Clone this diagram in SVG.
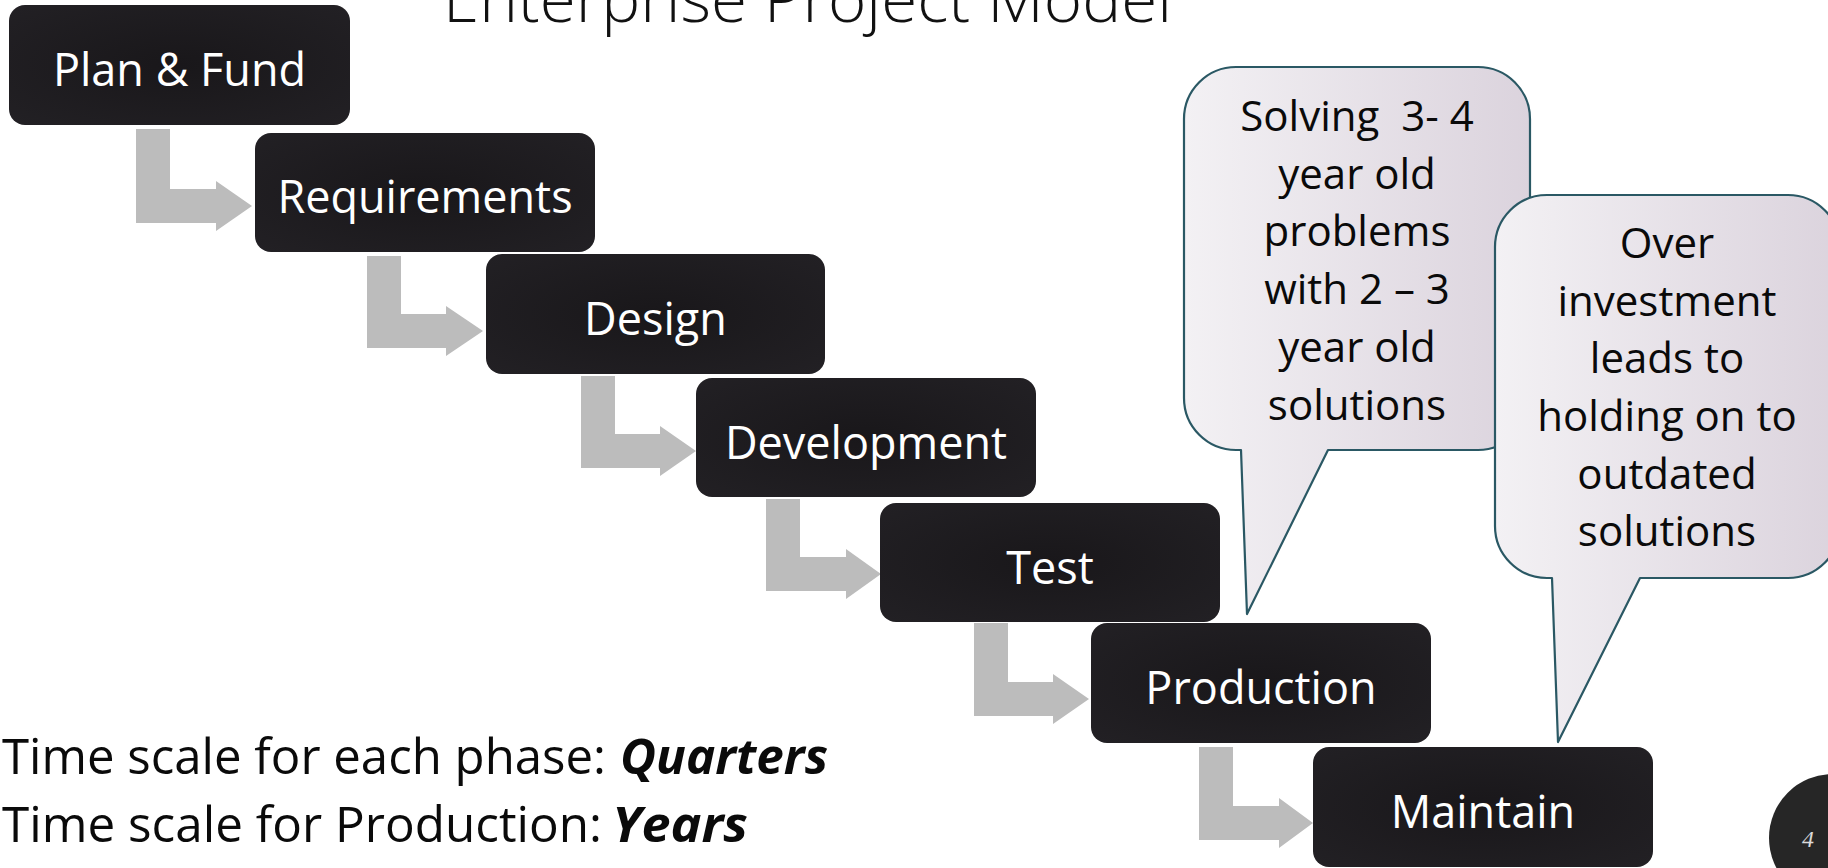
<svg xmlns="http://www.w3.org/2000/svg" width="1828" height="868" viewBox="0 0 1828 868">
<defs>
<radialGradient id="boxFill" cx="0.5" cy="0.5" r="0.75">
<stop offset="0" stop-color="#19171a"/>
<stop offset="1" stop-color="#232125"/>
</radialGradient>
<linearGradient id="bubbleFill" x1="0" y1="0" x2="1" y2="0">
<stop offset="0" stop-color="#f3f1f4"/>
<stop offset="1" stop-color="#dbd3dd"/>
</linearGradient>
</defs>
<style>
.box{fill:url(#boxFill);}
.boxText{font-family:"Open Sans","DejaVu Sans",sans-serif;font-size:45px;fill:#ffffff;text-anchor:middle;}
.arrow{fill:#bcbcbc;}
.bubble{fill:url(#bubbleFill);stroke:#2a5864;stroke-width:2.2;stroke-linejoin:round;}
.bubbleText{font-family:"Open Sans","DejaVu Sans",sans-serif;font-size:42px;fill:#0a0a0a;text-anchor:middle;}
.title{font-family:"Open Sans","DejaVu Sans",sans-serif;font-size:64px;font-weight:300;fill:#111111;}
.note{font-family:"Open Sans","DejaVu Sans",sans-serif;font-size:49px;fill:#0a0a0a;}
.em{font-weight:bold;font-style:italic;}
.pageNum{font-family:"Liberation Serif",serif;font-style:italic;font-size:24px;fill:#d9d9d9;text-anchor:middle;}
</style>
<rect width="1828" height="868" fill="#ffffff"/>
<text class="title" x="443" y="22" textLength="729" lengthAdjust="spacingAndGlyphs">Enterprise Project Model</text>
<g id="connectors">
<path class="arrow" d="M136,129 H170 V189 H216 V181 L252,206 L216,231 V223 H136 Z"/>
<path class="arrow" d="M367,256 H401 V314 H446 V306 L483,331 L446,356 V348 H367 Z"/>
<path class="arrow" d="M581,376 H615 V434 H660 V426 L696,451 L660,476 V468 H581 Z"/>
<path class="arrow" d="M766,499 H800 V557 H846 V549 L881,574 L846,599 V591 H766 Z"/>
<path class="arrow" d="M974,623 H1008 V682 H1053 V674 L1089,699 L1053,724 V716 H974 Z"/>
<path class="arrow" d="M1199,747 H1233 V806 H1279 V798 L1313,823 L1279,848 V840 H1199 Z"/>
</g>
<g id="plan-fund">
<rect class="box" x="9" y="5" width="341" height="120" rx="16"/>
<text class="boxText" x="179.5" y="86">Plan &amp; Fund</text>
</g>
<g id="requirements">
<rect class="box" x="255" y="133" width="340" height="119" rx="16"/>
<text class="boxText" x="425" y="213">Requirements</text>
</g>
<g id="design">
<rect class="box" x="486" y="254" width="339" height="120" rx="16"/>
<text class="boxText" x="655.5" y="335">Design</text>
</g>
<g id="development">
<rect class="box" x="696" y="378" width="340" height="119" rx="16"/>
<text class="boxText" x="866" y="459">Development</text>
</g>
<g id="test">
<rect class="box" x="880" y="503" width="340" height="119" rx="16"/>
<text class="boxText" x="1050" y="584">Test</text>
</g>
<g id="production">
<rect class="box" x="1091" y="623" width="340" height="120" rx="16"/>
<text class="boxText" x="1261" y="704">Production</text>
</g>
<g id="maintain">
<rect class="box" x="1313" y="747" width="340" height="120" rx="16"/>
<text class="boxText" x="1483" y="828">Maintain</text>
</g>
<g id="callout-solving">
<path class="bubble" d="M1236,67 H1478 A52,52 0 0 1 1530,119 V398 A52,52 0 0 1 1478,450 H1328 L1247,614 L1241,450 H1236 A52,52 0 0 1 1184,398 V119 A52,52 0 0 1 1236,67 Z"/>
<text class="bubbleText" xml:space="preserve"><tspan x="1357" y="131">Solving  3- 4</tspan><tspan x="1357" y="189">year old</tspan><tspan x="1357" y="246">problems</tspan><tspan x="1357" y="304">with 2 – 3</tspan><tspan x="1357" y="362">year old</tspan><tspan x="1357" y="420">solutions</tspan></text>
</g>
<g id="callout-overinvestment">
<path class="bubble" d="M1547,195 H1788 A52,52 0 0 1 1840,247 V526 A52,52 0 0 1 1788,578 H1640 L1558,742 L1552,578 H1547 A52,52 0 0 1 1495,526 V247 A52,52 0 0 1 1547,195 Z"/>
<text class="bubbleText"><tspan x="1667" y="258">Over</tspan><tspan x="1667" y="316">investment</tspan><tspan x="1667" y="373">leads to</tspan><tspan x="1667" y="431">holding on to</tspan><tspan x="1667" y="489">outdated</tspan><tspan x="1667" y="546">solutions</tspan></text>
</g>
<g id="notes">
<text class="note" x="2" y="774" textLength="604" lengthAdjust="spacingAndGlyphs">Time scale for each phase:</text>
<text class="note em" x="620" y="774" textLength="208" lengthAdjust="spacingAndGlyphs">Quarters</text>
<text class="note" x="2" y="842" textLength="600" lengthAdjust="spacingAndGlyphs">Time scale for Production:</text>
<text class="note em" x="612" y="842" textLength="136" lengthAdjust="spacingAndGlyphs">Years</text>
</g>
<g id="page-number">
<circle cx="1833" cy="838" r="64" fill="#262626"/>
<text class="pageNum" x="1808" y="847">4</text>
</g>
</svg>
